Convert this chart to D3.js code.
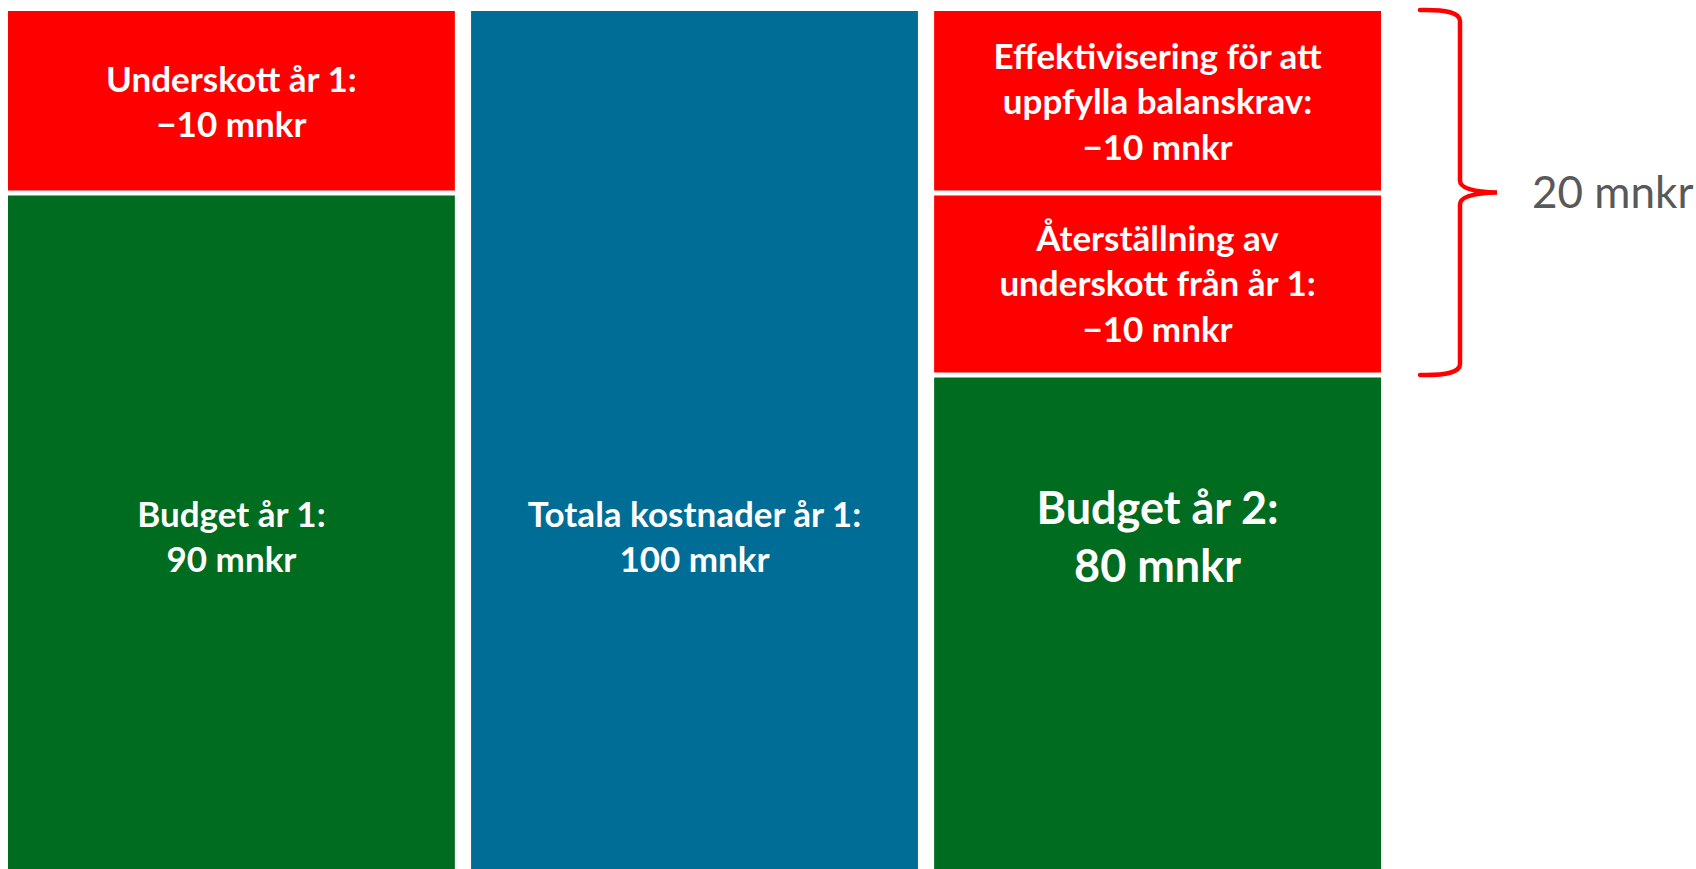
<!DOCTYPE html>
<html>
<head>
<meta charset="utf-8">
<script src="https://cdn.jsdelivr.net/npm/d3@7"></script>
<style>
  body { margin: 0; background: #fff; overflow: hidden; }
  text { font-family: "Lato", "Open Sans", sans-serif; }
</style>
</head>
<body>
<div id="chart"></div>
<script>
// columns of the stacked chart
var columns = ["budget1", "kostnader1", "budget2"];

// segments, stacked from the top of each column
var segColumn = [0, 0, 1, 2, 2, 2];
var segValue = [10, 90, 100, 10, 10, 80];
var segKind = ["deficit", "budget", "cost", "deficit", "deficit", "budget"];
var segBig = [false, false, false, false, false, true];
var segLabels = [
  ["Underskott år 1:", "\u221210 mnkr"],
  ["Budget år 1:", "90 mnkr"],
  ["Totala kostnader år 1:", "100 mnkr"],
  ["Effektivisering för att", "uppfylla balanskrav:", "\u221210 mnkr"],
  ["Återställning av", "underskott från år 1:", "\u221210 mnkr"],
  ["Budget år 2:", "80 mnkr"]
];

// brace over the two red blocks of year 2
var braceFrom = 0, braceTo = 20;
var braceLabel = "20 mnkr";

var colors = { deficit: "#ff0000", budget: "#006c1f", cost: "#006d97" };

var width = 1696, height = 869;

var svg = d3.select("#chart")
    .append("svg")
        .attr("width", width)
        .attr("height", height);

var xScale = d3.scaleBand()
    .domain(columns)
    .range([8, 1381])
    .paddingInner(0.035)
    .paddingOuter(0);

// 10 mnkr is about 182px, so the bottom of each column runs off the page
var yScale = d3.scaleLinear()
    .domain([0, 100])
    .range([11, 1831]);

// compute stack offsets
var offsets = [0, 0, 0];
var segs = segValue.map(function(v, i) {
  var c = segColumn[i];
  var s = { col: columns[c], start: offsets[c], end: offsets[c] + v,
            kind: segKind[i], big: segBig[i], lines: segLabels[i] };
  offsets[c] += v;
  return s;
});

var gap = 5;
svg.append("g")
    .selectAll("rect")
    .data(segs)
    .enter()
    .append("rect")
        .attr("x", function(d) { return xScale(d.col); })
        .attr("width", xScale.bandwidth())
        .attr("y", function(d) { return yScale(d.start) + (d.start > 0 ? gap / 2 : 0); })
        .attr("height", function(d) {
          return yScale(d.end) - yScale(d.start) - (d.start > 0 ? gap : gap / 2);
        })
        .attr("fill", function(d) { return colors[d.kind]; });

// labels: centred in the block, or at a fixed height when the block runs off the page
var clippedLabelY = 537;
var labels = svg.append("g")
    .selectAll("text")
    .data(segs)
    .enter()
    .append("text")
        .attr("text-anchor", "middle")
        .attr("font-weight", "bold")
        .attr("fill", "white")
        .attr("font-size", function(d) { return d.big ? 45 : 35; });

labels.each(function(d) {
  var fs = d.big ? 45 : 35;
  var lh = d.big ? 58 : 45.5;
  var cap = fs * 0.7;
  var bottom = yScale(d.end);
  var cy = bottom > height ? clippedLabelY : (yScale(d.start) + yScale(d.end)) / 2;
  var first = cy - (d.lines.length - 1) * lh / 2 + cap / 2;
  var cx = xScale(d.col) + xScale.bandwidth() / 2;
  d3.select(this).selectAll("tspan")
      .data(d.lines)
      .enter()
      .append("tspan")
          .attr("x", cx)
          .attr("y", function(t, i) { return first + i * lh; })
          .text(function(t) { return t; });
});

// curly brace
var bx = xScale("budget2") + xScale.bandwidth() + 79;
var by0 = yScale(braceFrom) - 2, by1 = yScale(braceTo) + 1;
var bm = (by0 + by1) / 2;
var tip = bx + 37, r = 12;
var p = d3.path();
p.moveTo(bx - 40, by0 + 1);
p.quadraticCurveTo(bx, by0, bx, by0 + r);
p.lineTo(bx, bm - r);
p.quadraticCurveTo(bx, bm - 1, tip, bm);
p.quadraticCurveTo(bx, bm + 1, bx, bm + r);
p.lineTo(bx, by1 - r);
p.quadraticCurveTo(bx, by1, bx - 40, by1 - 1);

svg.append("path")
    .attr("d", p.toString())
    .attr("fill", "none")
    .attr("stroke", "#ff0000")
    .attr("stroke-width", 4.5)
    .attr("stroke-linecap", "round");

svg.append("text")
    .attr("x", tip + 35)
    .attr("y", bm + 15)
    .attr("font-size", 44)
    .attr("fill", "#595959")
    .text(braceLabel);
</script>
</body>
</html>
